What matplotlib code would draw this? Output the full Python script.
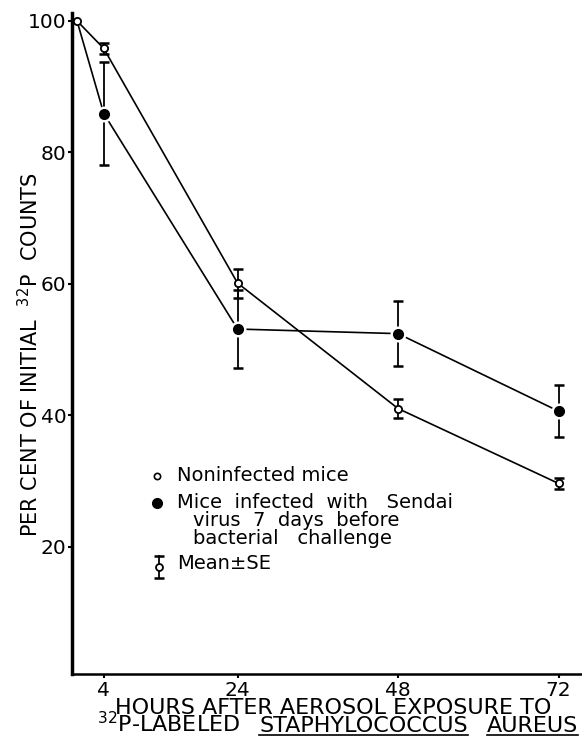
import matplotlib
matplotlib.use('Agg')
import matplotlib.pyplot as plt
from matplotlib.lines import Line2D

# data
hours = [0, 4, 24, 48, 72]
noninfected = [100, 95.8, 60.1, 41.0, 29.6]
noninfected_se = [0, 0.9, 2.2, 1.5, 0.8]
infected = [100, 85.9, 53.1, 52.4, 40.6]
infected_se = [0, 7.8, 6.0, 5.0, 4.0]
x_ticks = [4, 24, 48, 72]
y_ticks = [20, 40, 60, 80, 100]

W, H = 582, 736
fig = plt.figure(figsize=(W / 100, H / 100), dpi=100)
ax = fig.add_axes([72 / W, 62 / H, 510 / W, 661 / H])

# connecting lines
ax.plot(hours, noninfected, 'k-', lw=1.2, zorder=2, clip_on=False)
ax.plot(hours, infected, 'k-', lw=1.2, zorder=2, clip_on=False)

# error bars
ax.errorbar(hours[1:], noninfected[1:], yerr=noninfected_se[1:], fmt='none',
            ecolor='k', elinewidth=1.3, capsize=3.5, capthick=1.8, zorder=3)
ax.errorbar(hours[1:], infected[1:], yerr=infected_se[1:], fmt='none',
            ecolor='k', elinewidth=1.3, capsize=3.5, capthick=1.8, zorder=3)

# filled markers with a white gap around them
ax.plot(hours[1:], infected[1:], 'o', ms=11.5, color='white', mec='none', zorder=4)
ax.plot(hours[1:], infected[1:], 'o', ms=7, color='black', mec='black', zorder=5)
ax.plot(hours, noninfected, 'o', ms=5.2, mfc='white', mec='k', mew=1.3,
        zorder=6, clip_on=False)

ax.set_xlim(-0.75, 75.5)
ax.set_ylim(0.6, 101.2)
ax.set_xticks(x_ticks)
ax.set_xticklabels([str(v) for v in x_ticks])
ax.set_yticks(y_ticks)
ax.set_yticklabels([str(v) for v in y_ticks])

ax.spines['top'].set_visible(False)
ax.spines['right'].set_visible(False)
ax.spines['left'].set_linewidth(2.5)
ax.spines['bottom'].set_linewidth(1.8)
ax.tick_params(axis='y', direction='out', length=3, width=1.5, labelsize=14.5, pad=1)
ax.tick_params(axis='x', direction='out', length=3, width=1.5, labelsize=14.5, pad=2)

# hand-drawn legend
tr = ax.transAxes
fs = 14
ax.plot([0.167], [0.300], 'o', ms=4.5, mfc='white', mec='k', mew=1.2, transform=tr)
ax.text(0.206, 0.300, 'Noninfected mice', fontsize=fs, va='center', transform=tr)
ax.plot([0.167], [0.259], 'o', ms=7, color='k', transform=tr)
ax.text(0.206, 0.259, 'Mice  infected  with   Sendai', fontsize=fs, va='center', transform=tr)
ax.text(0.237, 0.232, 'virus  7  days  before', fontsize=fs, va='center', transform=tr)
ax.text(0.237, 0.2045, 'bacterial   challenge', fontsize=fs, va='center', transform=tr)
ax.plot([0.171, 0.171], [0.145, 0.179], 'k-', lw=1.3, transform=tr)
ax.plot([0.171, 0.171], [0.145, 0.179], '_', ms=7, mew=1.8, color='k', transform=tr)
ax.plot([0.171], [0.162], 'o', ms=5, mfc='white', mec='k', mew=1.3, transform=tr)
ax.text(0.206, 0.1667, 'Mean\u00b1SE', fontsize=fs, va='center', transform=tr)

# axis titles
lab_fs = 16
fig.text(30 / W, 1 - 355 / H, 'PER CENT OF INITIAL  $^{32}$P  COUNTS', rotation=90,
         ha='center', va='center', fontsize=15)
fig.text(333 / W, 1 - 714 / H, 'HOURS AFTER AEROSOL EXPOSURE TO',
         ha='center', va='baseline', fontsize=lab_fs)

# second line with underlined species name
fig.canvas.draw()
r = fig.canvas.get_renderer()
x_px = 97
base = 3.5
parts = ['$^{32}$P-LABELED', 'STAPHYLOCOCCUS', 'AUREUS']
space = 19
for i, p in enumerate(parts):
    t = fig.text(x_px / W, base / H, p, ha='left', va='baseline', fontsize=lab_fs)
    bb = t.get_window_extent(r)
    if i > 0:
        ul = 1.5
        fig.add_artist(Line2D([bb.x0 / W, bb.x1 / W], [ul / H, ul / H],
                              color='k', lw=1.2, transform=fig.transFigure))
    x_px = bb.x1 + space

fig.savefig('out.png', dpi=100)
